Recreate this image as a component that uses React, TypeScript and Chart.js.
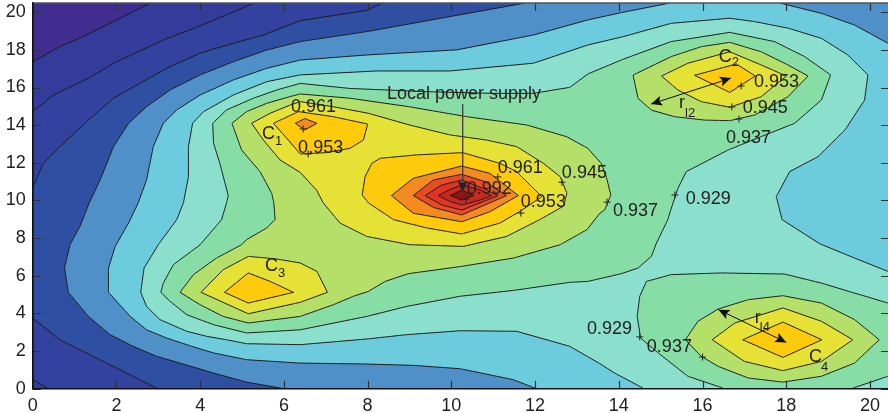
import React, { useEffect, useRef } from "react";
import { Chart, registerables } from "chart.js";
Chart.register(...registerables);

type P = [number, number];

const X_MAX = 20.43;
const Y_MAX = 20.49;
const tickValues = [0, 2, 4, 6, 8, 10, 12, 14, 16, 18, 20];

const colours = ["#412d90", "#343c9b", "#33419f", "#2f4fa3", "#5090c8", "#6ccbdd", "#8ae0cc", "#87dda6", "#b4e06a", "#e5e135", "#fdcb0c", "#f58a20", "#ea4c22", "#e03226", "#c9281f", "#8b1510"];

const level0: P[][] = [[[0, -0.5], [0, 21], [21, 21], [21, -0.5]]];
const level1: P[][] = [[[0, 17.37], [0.65, 18.17], [1.29, 18.8], [1.93, 19.5], [2.4, 20.03], [2.92, 20.6], [21, 20.6], [21, -0.5], [0, -0.5]]];
const level2: P[][] = [[[0, 14.72], [0.49, 15.6], [1.33, 16.49], [1.93, 17.29], [2.52, 17.9], [3.2, 18.6], [3.92, 19.2], [4.63, 19.86], [5.27, 20.47], [5.4, 20.6], [21, 20.6], [21, -0.5], [0.5, -0.2], [0.37, 0], [0, 0.48]]];
const level3: P[][] = [[[0, 10.65], [0.25, 11.97], [0.65, 12.86], [1.29, 14.19], [1.93, 15.43], [2.56, 16.22], [3.2, 17.02], [3.99, 17.82], [4.79, 18.35], [5.51, 18.79], [6.39, 19.55], [7.98, 20.1], [8.34, 20.47], [8.5, 20.6], [21, 20.6], [21, -0.5], [3.1, -0.2], [2.96, 0.03], [2.4, 0.66], [1.77, 1.36], [1.21, 1.98], [0.65, 2.6], [0, 3.75]]];
const level4: P[][] = [[[6, 0], [5.11, 0.35], [4.32, 0.83], [3.52, 1.36], [2.96, 1.72], [2.4, 2.25], [1.85, 2.87], [1.33, 3.84], [0.85, 5.12], [0.76, 6.41], [0.89, 7.65], [1.13, 8.63], [1.35, 9.87], [1.61, 11.09], [1.93, 12.86], [2.29, 14.1], [2.72, 14.98], [3.28, 15.87], [4.0, 16.67], [4.79, 17.37], [5.59, 17.99], [6.39, 18.44], [7.98, 18.97], [9.97, 19.77], [11.72, 20.47], [12, 20.6], [21, 20.6], [21, -0.5], [6.2, -0.5]]];
const level5: P[][] = [[[12.0, 0.03], [11.48, 0.48], [10.21, 1.06], [9.09, 1.24], [7.98, 1.31], [6.39, 1.36], [5.11, 1.54], [4.32, 1.9], [3.8, 2.25], [3.2, 2.69], [2.72, 3.13], [2.33, 3.84], [1.81, 5.12], [1.81, 6.41], [1.97, 7.56], [2.29, 8.8], [2.52, 9.87], [2.72, 11.09], [2.88, 12.86], [3.12, 14.1], [3.44, 14.81], [4.0, 15.6], [4.79, 16.4], [5.59, 17.02], [6.39, 17.46], [7.98, 17.73], [10.13, 18.0], [11.96, 18.79], [13.26, 19.59], [14.06, 19.98], [15.18, 20.47], [15.3, 20.6], [17.7, 20.6], [17.88, 20.47], [18.84, 19.94], [19.63, 19.32], [20.43, 18.35], [21, 17.5], [21, -0.5], [12.2, -0.5]]];
const level6: P[][] = [[[14.58, 0.03], [13.9, 0.83], [13.55, 1.33], [12.83, 2.25], [11.56, 3.05], [10.21, 3.08], [8.93, 2.87], [7.98, 2.64], [6.39, 2.34], [5.11, 2.39], [4.63, 2.6], [4.16, 2.78], [3.68, 3.05], [3.04, 3.67], [2.72, 4.37], [2.58, 5.12], [2.66, 6.41], [3.0, 7.65], [3.44, 8.98], [3.6, 9.87], [3.72, 11.26], [3.72, 12.86], [3.82, 14.1], [4.08, 14.72], [4.79, 15.6], [5.59, 16.31], [6.39, 16.67], [8.22, 16.88], [9.97, 16.88], [11.96, 17.29], [13.26, 18.26], [14.1, 18.7], [15.25, 19.41], [16.65, 19.68], [17.25, 19.5], [18.05, 19.15], [18.84, 18.61], [19.47, 17.73], [19.95, 16.67], [19.87, 15.33], [19.4, 13.74], [18.76, 12.33], [18.08, 11.53], [17.76, 10.2], [17.8, 9.87], [17.9, 8.98], [18.8, 7.7], [19.63, 6.94], [20.43, 6.23], [21, 5.5], [21, -0.5], [14.8, -0.5]]];
const level7: P[][] = [
  [[13.26, 16.72], [14.1, 17.5], [15.25, 18.44], [16.65, 18.93], [17.72, 18.44], [18.44, 17.64], [19.06, 16.67], [18.84, 15.34], [18.2, 14.1], [17.4, 13.39], [16.61, 12.68], [15.61, 11.53], [15.41, 10.63], [15.24, 9.49], [15.17, 8.98], [14.9, 7.74], [14.78, 7.03], [14.46, 6.41], [14.06, 6.11], [13.26, 5.7], [12.83, 5.65], [11.48, 5.22], [10.21, 4.91], [8.93, 4.37], [7.98, 3.84], [6.39, 3.13], [5.11, 2.96], [4.32, 3.4], [3.68, 3.93], [3.28, 4.64], [3.06, 5.12], [3.12, 5.61], [3.36, 6.59], [4.0, 7.65], [4.51, 8.98], [4.63, 9.87], [4.67, 10.27], [4.47, 11.97], [4.32, 13.04], [4.3, 14.1], [4.63, 14.81], [5.27, 15.43], [5.83, 15.87], [6.39, 16.22], [7.58, 15.95], [9.41, 15.78], [11.0, 15.69], [11.96, 15.69], [12.83, 16.01]],
  [[14.66, 5.7], [14.5, 4.91], [14.44, 3.84], [14.52, 2.69], [14.94, 1.9], [15.65, 0.66], [16.49, 0.03], [16.6, -0.5], [19.3, -0.5], [19.59, 0.03], [20.43, 0.66], [21, 1.1], [21, 4.1], [20.43, 4.55], [19.63, 5.08], [18.84, 5.61], [17.96, 6.09], [16.45, 6.15], [15.25, 6.06]],
];
const level8: P[][] = [
  [[13.81, 10.29], [13.66, 9.49], [13.55, 9.33], [13.24, 8.45], [12.6, 7.65], [11.48, 6.94], [10.25, 6.5], [8.97, 6.11], [8.42, 5.7], [8.02, 5.17], [7.66, 4.91], [7.18, 4.46], [6.39, 3.84], [5.15, 3.49], [4.55, 3.84], [4.0, 4.46], [3.52, 5.12], [3.84, 6.06], [4.39, 6.94], [4.99, 7.65], [5.11, 7.92], [5.59, 8.54], [5.79, 8.98], [5.76, 9.87], [5.71, 10.38], [5.43, 11.53], [4.99, 12.68], [4.76, 14.1], [5.11, 14.72], [5.59, 15.16], [6.15, 15.52], [6.39, 15.66], [7.58, 15.43], [8.99, 14.98], [10.37, 14.45], [11.8, 14.01], [12.75, 13.39], [13.26, 12.77], [13.58, 11.97], [13.7, 11.26]],
  [[14.34, 16.66], [15.25, 17.64], [15.97, 18.17], [16.65, 18.4], [17.4, 17.9], [18.04, 17.2], [18.52, 16.61], [18.04, 15.51], [17.25, 14.54], [16.65, 14.24], [16.05, 14.27], [15.33, 14.45], [14.78, 14.8], [14.46, 15.42]],
  [[15.59, 2.6], [15.89, 3.58], [16.37, 4.23], [17.09, 4.73], [17.92, 4.94], [18.84, 4.55], [19.63, 3.67], [20.22, 2.6], [19.63, 1.36], [18.84, 0.66], [17.92, 0.35], [17.09, 0.57], [16.37, 1.19], [15.97, 1.72]],
];
const level9: P[][] = [
  [[5.23, 14.1], [5.67, 14.63], [6.15, 15.07], [6.39, 15.25], [7.18, 14.98], [8.02, 14.63], [9.0, 14.01], [9.97, 13.48], [10.84, 13.21], [11.56, 12.86], [12.2, 11.97], [12.6, 11.26], [12.76, 10.38], [12.68, 9.7], [12.11, 8.98], [11.32, 8.09], [10.29, 7.56], [9.0, 7.65], [7.98, 8.09], [7.34, 8.8], [6.94, 9.87], [6.78, 10.55], [6.39, 11.49], [5.91, 12.15], [5.51, 13.21]],
  [[4.02, 5.12], [4.55, 6.32], [5.15, 7.03], [5.83, 6.89], [6.39, 6.68], [6.79, 6.23], [7.04, 5.12], [6.39, 4.59], [5.15, 3.98]],
  [[15.02, 16.61], [15.65, 17.29], [16.65, 17.9], [17.4, 17.2], [18.0, 16.61], [17.4, 15.51], [16.65, 14.95], [15.97, 15.25], [15.41, 15.87]],
  [[16.23, 2.6], [16.77, 3.49], [17.92, 4.29], [18.84, 3.58], [19.59, 2.6], [18.84, 1.45], [17.92, 0.96], [17.0, 1.45]],
];
const level10: P[][] = [
  [[5.75, 14.1], [6.35, 14.72], [7.18, 14.45], [8.0, 14.06], [7.9, 13.21], [7.58, 12.77], [7.02, 12.54], [6.39, 12.47], [6.07, 13.3]],
  [[7.87, 10.29], [7.94, 11.26], [8.1, 11.97], [8.3, 12.24], [9.17, 12.42], [10.27, 12.54], [11.16, 11.97], [11.56, 11.53], [12.16, 10.2], [11.64, 9.42], [11.16, 8.8], [10.25, 8.22], [9.41, 8.54], [8.62, 8.98], [8.02, 9.87]],
  [[15.81, 16.65], [16.81, 17.25], [17.26, 16.61], [16.65, 15.74]],
  [[4.58, 5.12], [5.15, 6.15], [5.67, 5.7], [6.23, 5.12], [5.15, 4.55]],
  [[16.96, 2.6], [17.92, 3.54], [18.85, 2.6], [17.92, 1.66]],
];
const level11: P[][] = [
  [[6.27, 14.1], [6.5, 14.35], [6.79, 14.1], [6.5, 13.75]],
  [[8.57, 10.26], [9.09, 11.18], [10.25, 11.83], [10.92, 11.44], [11.6, 10.26], [10.92, 9.4], [10.25, 8.87], [9.09, 9.32]],
];
const level12: P[][] = [[[9.09, 10.26], [9.57, 11.09], [10.25, 11.39], [10.8, 11.0], [11.32, 10.26], [10.8, 9.76], [10.25, 9.23], [9.57, 9.63]]];
const level13: P[][] = [[[9.37, 10.26], [9.77, 10.82], [10.25, 11.09], [10.76, 10.64], [11.12, 10.26], [10.76, 9.94], [10.25, 9.49], [9.77, 9.76]]];
const level14: P[][] = [[[9.69, 10.26], [9.97, 10.59], [10.25, 10.82], [10.69, 10.56], [10.96, 10.26], [10.69, 10.02], [10.25, 9.76], [9.97, 9.94]]];
const level15: P[][] = [[[9.97, 10.26], [10.25, 10.55], [10.54, 10.26], [10.25, 10.02]]];
const levels = [level0, level1, level2, level3, level4, level5, level6, level7, level8, level9, level10, level11, level12, level13, level14, level15];

const contourLabels: [string, number, number][] = [
  ["0.961", 6.17, 14.96], ["0.953", 6.34, 12.79], ["0.961", 11.11, 11.73], ["0.945", 12.64, 11.46], ["0.992", 10.37, 10.61], ["0.953", 11.66, 9.92], ["0.937", 13.86, 9.44], ["0.929", 15.6, 10.08], ["0.953", 17.23, 16.3], ["0.945", 16.96, 14.92], ["0.937", 16.56, 13.32], ["0.929", 13.24, 3.17], ["0.937", 14.67, 2.22],
];
const labelCrosses: P[] = [[6.46, 13.8], [6.58, 12.47], [11.11, 11.25], [12.64, 10.97], [10.35, 10.07], [11.66, 9.33], [13.72, 9.91], [15.34, 10.29], [16.92, 16.08], [16.7, 14.97], [16.87, 14.33], [14.5, 2.75], [16.0, 1.68]];
const subscripted: [string, string, number, number, number, number][] = [
  ["C", "1", 5.48, 13.53, 13, 7], ["C", "2", 16.39, 17.6, 13, 5], ["C", "3", 5.55, 6.52, 13, 7], ["C", "4", 18.54, 1.68, 12, 10], ["r", "l2", 15.44, 15.18, 6, 10], ["r", "l4", 17.25, 3.76, 5, 9],
];
const title: [string, number, number] = ["Local power supply", 8.46, 15.66];
const supplyArrow: P[] = [[10.27, 15.1], [10.27, 10.45]];
const arrowL2: P[] = [[14.77, 15.12], [16.68, 16.5]];
const arrowL4: P[] = [[16.38, 4.2], [18.0, 2.46]];

const FONT = '"Liberation Sans"';

function head(ctx: CanvasRenderingContext2D, x: number, y: number, fromX: number, fromY: number, len: number, w: number, colour: string) {
  const a = Math.atan2(y - fromY, x - fromX);
  ctx.save();
  ctx.translate(x, y);
  ctx.rotate(a);
  ctx.fillStyle = colour;
  ctx.beginPath();
  ctx.moveTo(0, 0);
  ctx.lineTo(-len, -w);
  ctx.lineTo(-len * 0.8, 0);
  ctx.lineTo(-len, w);
  ctx.closePath();
  ctx.fill();
  ctx.restore();
}

const overlay = {
  id: "overlay",
  afterDatasetsDraw(chart: any) {
    const { ctx, chartArea: a, scales } = chart;
    const sx = scales.x, sy = scales.y;
    ctx.save();
    ctx.strokeStyle = "#2b3340";
    ctx.lineWidth = 1.2;
    ctx.beginPath();
    for (const t of tickValues) {
      const px = Math.round(sx.getPixelForValue(t)) + 0.5;
      ctx.moveTo(px, a.bottom); ctx.lineTo(px, a.bottom - 8);
      ctx.moveTo(px, a.top); ctx.lineTo(px, a.top + 8);
      const py = Math.round(sy.getPixelForValue(t)) + 0.5;
      ctx.moveTo(a.left, py); ctx.lineTo(a.left + 8, py);
      ctx.moveTo(a.right, py); ctx.lineTo(a.right - 7, py);
    }
    ctx.stroke();
    ctx.strokeStyle = "#555";
    ctx.lineWidth = 1.6;
    ctx.beginPath();
    ctx.moveTo(a.left, a.top); ctx.lineTo(a.right, a.top);
    ctx.stroke();

    head(ctx, sx.getPixelForValue(supplyArrow[1][0]), sy.getPixelForValue(supplyArrow[1][1]), sx.getPixelForValue(supplyArrow[0][0]), sy.getPixelForValue(supplyArrow[0][1]), 11, 5, "#222");
    for (const arr of [arrowL2, arrowL4]) {
      const x0 = sx.getPixelForValue(arr[0][0]), y0 = sy.getPixelForValue(arr[0][1]);
      const x1 = sx.getPixelForValue(arr[1][0]), y1 = sy.getPixelForValue(arr[1][1]);
      head(ctx, x1, y1, x0, y0, 11, 5, "#111");
      head(ctx, x0, y0, x1, y1, 11, 5, "#111");
    }

    ctx.fillStyle = "#222";
    ctx.textAlign = "left";
    ctx.textBaseline = "middle";
    ctx.font = `18px ${FONT}`;
    for (const [text, x, y] of contourLabels) ctx.fillText(text, sx.getPixelForValue(x), sy.getPixelForValue(y));
    ctx.fillText(title[0], sx.getPixelForValue(title[1]), sy.getPixelForValue(title[2]));
    for (const [b, s, x, y, dx, dy] of subscripted) {
      const px = sx.getPixelForValue(x), py = sy.getPixelForValue(y);
      ctx.font = `18px ${FONT}`;
      ctx.fillText(b, px, py);
      ctx.font = `13px ${FONT}`;
      ctx.fillText(s, px + dx, py + dy);
    }
    ctx.restore();
  },
};

export default function App() {
  const ref = useRef<HTMLCanvasElement>(null);
  useEffect(() => {
    const polygons: any[] = [];
    levels.forEach((polys, i) => {
      polys.forEach((pts) => {
        polygons.push({
          data: [...pts, pts[0]].map(([x, y]) => ({ x, y })),
          showLine: true,
          fill: "shape",
          tension: 0.0001,
          backgroundColor: colours[i],
          borderColor: "#1c1c1c",
          borderWidth: i === 0 ? 0 : 1,
          pointRadius: 0,
          order: 100 - i,
        });
      });
    });
    const extras: any[] = [
      { data: supplyArrow.map(([x, y]) => ({ x, y })), showLine: true, fill: false, borderColor: "#444", borderWidth: 1, pointRadius: 0, order: 2 },
      { data: arrowL2.map(([x, y]) => ({ x, y })), showLine: true, fill: false, borderColor: "#111", borderWidth: 1, pointRadius: 0, order: 2 },
      { data: arrowL4.map(([x, y]) => ({ x, y })), showLine: true, fill: false, borderColor: "#111", borderWidth: 1, pointRadius: 0, order: 2 },
      { data: labelCrosses.map(([x, y]) => ({ x, y })), showLine: false, fill: false, pointStyle: "cross", pointRadius: 3.5, pointBorderColor: "#222", pointBorderWidth: 1, order: 1 },
    ];
    const axisCommon = {
      type: "linear",
      min: 0,
      grid: { display: false, drawTicks: false },
      border: { display: true, color: "#111", width: 1.6, z: 2 },
    };
    const noPad = (s: any) => { s.paddingLeft = 0; s.paddingRight = 0; s.paddingTop = 0; s.paddingBottom = 0; };
    const chart = new Chart(ref.current as HTMLCanvasElement, {
      type: "scatter",
      data: { datasets: [...polygons, ...extras] },
      options: {
        animation: false,
        responsive: false,
        events: [],
        layout: { autoPadding: false, padding: { top: 3, left: 0, right: 0, bottom: 0 } },
        plugins: { legend: { display: false }, tooltip: { enabled: false } },
        scales: {
          x: {
            ...axisCommon,
            max: X_MAX,
            afterFit: (s: any) => { s.height = 24.3; noPad(s); },
            ticks: { stepSize: 2, includeBounds: false, autoSkip: false, maxRotation: 0, padding: 6.5, color: "#222", font: { family: "Liberation Sans", size: 18 } },
          },
          y: {
            ...axisCommon,
            max: Y_MAX,
            afterFit: (s: any) => { s.width = 32.7; noPad(s); },
            ticks: { stepSize: 2, includeBounds: false, autoSkip: false, padding: 7, color: "#222", font: { family: "Liberation Sans", size: 18 } },
          },
        },
      },
      plugins: [overlay],
    } as any);
    return () => chart.destroy();
  }, []);
  return (
    <div style={{ position: "absolute", left: 0, top: 0, width: 888, height: 413, background: "#fff" }}>
      <canvas ref={ref} width={888} height={413} style={{ display: "block" }} />
    </div>
  );
}
